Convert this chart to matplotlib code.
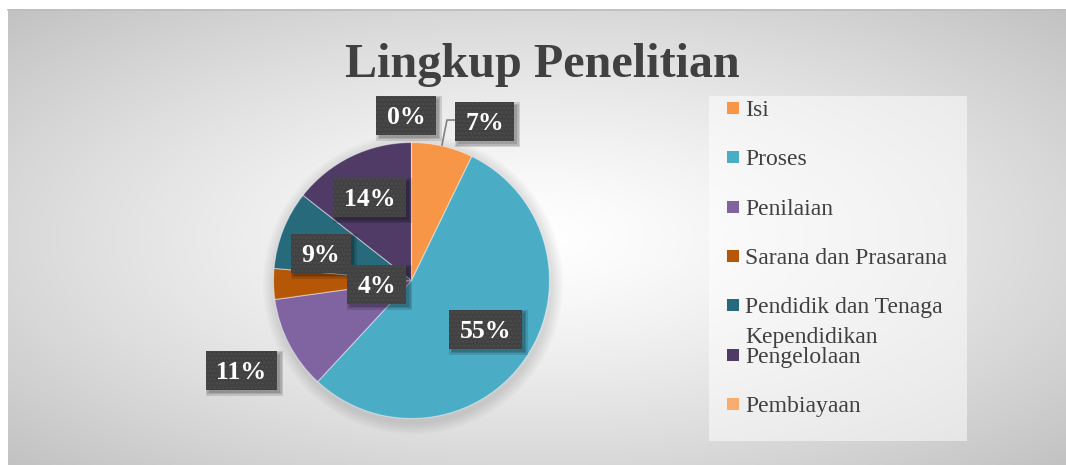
import textwrap
import numpy as np
import matplotlib
matplotlib.use("Agg")
import matplotlib.pyplot as plt
from matplotlib.patches import Rectangle, Circle
from matplotlib import transforms

# ---------------- data ----------------
categories = ["Isi", "Proses", "Penilaian", "Sarana dan Prasarana",
              "Pendidik dan Tenaga Kependidikan", "Pengelolaan", "Pembiayaan"]
shares = [7.2, 54.7, 10.9, 3.6, 9.2, 14.4, 0.0]
colors = ["#F79646", "#4BACC6", "#8064A2", "#B65708", "#276A7C", "#4F3B66", "#F9AC6D"]
title = "Lingkup Penelitian"

# label box centres in pie-radius units (style / placement)
label_pos = [(0.529, 1.152), (0.536, -0.355), (-1.232, -0.649), (-0.254, -0.028),
             (-0.658, 0.197), (-0.304, 0.601), (-0.040, 1.199)]

plt.rcParams["hatch.linewidth"] = 1.6
SERIF = "Liberation Serif"
W, H, DPI = 1066, 465, 100
fig = plt.figure(figsize=(W / DPI, H / DPI), dpi=DPI)
fig.patch.set_facecolor("white")

# ---------------- background / pixel overlay ----------------
bg = fig.add_axes([0, 0, 1, 1])
x0, y0 = 8, 10
ny, nx = H - y0, W - x0
yy, xx = np.mgrid[0:ny, 0:nx]
cx, cy = nx / 2, ny / 2
d = np.sqrt(((xx - cx) / cx) ** 2 + ((yy - cy) / cy) ** 2) / np.sqrt(2)
v = 1 - 0.24 * d ** 1.3
img = np.dstack([v, v, v])
bg.imshow(img, extent=[x0, W, H, y0], interpolation="bilinear", zorder=0, aspect="auto")
bg.plot([x0, W], [y0 + 0.5, y0 + 0.5], color="#bdbdbd", lw=1.2, zorder=1)
bg.set_xlim(0, W)
bg.set_ylim(H, 0)
bg.axis("off")

bg.text(542, 77, title, ha="center", va="baseline", fontsize=34.7,
        fontweight="bold", family=SERIF, color="#404040", zorder=3)

# legend (drawn manually to mirror the reference layout)
bg.add_patch(Rectangle((709, 96), 258, 345, facecolor="white", alpha=0.5, lw=0, zorder=2))
for i, (cat, col) in enumerate(zip(categories, colors)):
    yc = 108 + i * 49.3
    bg.add_patch(Rectangle((727, yc - 6), 12, 12, facecolor=col, lw=0, zorder=3))
    for j, line in enumerate(textwrap.wrap(cat, 20)):
        bg.text(745, yc + 8 + j * 30, line, fontsize=17, family=SERIF,
                color="#404040", va="baseline", ha="left", zorder=3)

# ---------------- pie ----------------
pcx, pcy, R = 411.5, 280.5, 138.0
k = 1.6
s = R * k
ax = fig.add_axes([(pcx - s) / W, (H - pcy - s) / H, 2 * s / W, 2 * s / H])

# soft shadow under the pie
for e in np.arange(2, 14, 2):
    ax.add_patch(Circle((1.5 / R, -3.5 / R), 1 + e / R, facecolor="black",
                        alpha=0.018, lw=0, zorder=0))

ax.pie(shares, colors=colors, startangle=90, counterclock=False, radius=1,
       wedgeprops=dict(edgecolor=(1, 1, 1, 0.45), linewidth=0.8, zorder=1))
ax.set_xlim(-k, k)
ax.set_ylim(-k, k)
ax.set_aspect("equal")
ax.axis("off")

# leader line for the "Isi" label
ax.plot([0.322, 0.257, 0.221], [1.163, 1.163, 0.982], color="#808080", lw=1.2,
        zorder=3, clip_on=False)

renderer = fig.canvas.get_renderer()
fs = 18.5
txt_tr = transforms.offset_copy(ax.transData, fig=fig, y=-6.3, units="points")
for val, (lx, ly) in zip(shares, label_pos):
    t = ax.text(lx, ly, f"{round(val):.0f}%", ha="center", va="baseline",
                fontsize=fs, fontweight="bold", family=SERIF, color="white",
                transform=txt_tr, zorder=6, clip_on=False)
    tw = t.get_window_extent(renderer).width
    bw, bh = (tw + 21) / R, 39 / R
    for g in (0, 1.5, 3):
        ax.add_patch(Rectangle((lx - bw / 2 + (3 - g) / R, ly - bh / 2 - (3 + g) / R),
                               bw + 2 * g / R, bh + 2 * g / R, facecolor="black",
                               alpha=0.13, lw=0, zorder=4, clip_on=False))
    ax.add_patch(Rectangle((lx - bw / 2, ly - bh / 2), bw, bh, facecolor="#404040",
                           edgecolor="#4b4b4b", hatch="....", lw=0, zorder=5,
                           clip_on=False))

fig.savefig("out.png", dpi=DPI, facecolor=fig.get_facecolor())
